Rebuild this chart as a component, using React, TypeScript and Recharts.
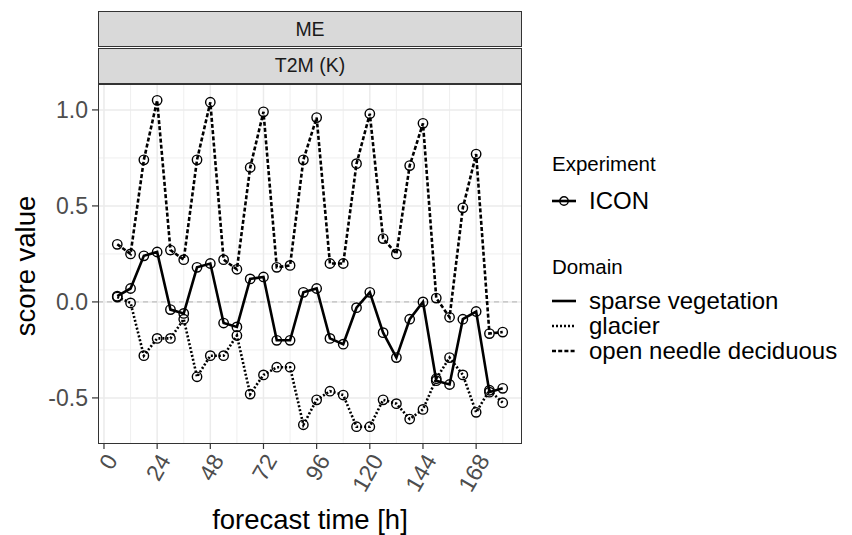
import { LineChart, Line, XAxis, YAxis, CartesianGrid, ReferenceLine } from "recharts";

const hours = [6, 12, 18, 24, 30, 36, 42, 48, 54, 60, 66, 72, 78, 84, 90, 96, 102, 108, 114, 120, 126, 132, 138, 144, 150, 156, 162, 168, 174, 180];
const sparseVegetation = [0.03, 0.07, 0.24, 0.26, -0.04, -0.06, 0.18, 0.2, -0.11, -0.13, 0.12, 0.13, -0.2, -0.2, 0.05, 0.07, -0.19, -0.22, -0.03, 0.05, -0.16, -0.29, -0.09, 0.0, -0.41, -0.43, -0.09, -0.05, -0.47, -0.45];
const glacier = [0.025, -0.005, -0.28, -0.19, -0.19, -0.09, -0.39, -0.28, -0.28, -0.175, -0.48, -0.38, -0.34, -0.34, -0.64, -0.51, -0.465, -0.485, -0.65, -0.65, -0.51, -0.53, -0.61, -0.56, -0.4, -0.29, -0.38, -0.575, -0.46, -0.525];
const openNeedle = [0.3, 0.25, 0.74, 1.05, 0.27, 0.22, 0.74, 1.04, 0.22, 0.17, 0.7, 0.99, 0.18, 0.19, 0.74, 0.96, 0.2, 0.2, 0.72, 0.98, 0.33, 0.25, 0.71, 0.93, 0.02, -0.08, 0.49, 0.77, -0.165, -0.157];

const xTicks = [0, 24, 48, 72, 96, 120, 144, 168];
const xMinor = [12, 36, 60, 84, 108, 132, 156, 180];
const yTicks = [-0.5, 0, 0.5, 1];
const yMinor = [-0.25, 0.25, 0.75];

const data = hours.map((h, i) => ({
  hour: h,
  sparse: sparseVegetation[i],
  glacier: glacier[i],
  needle: openNeedle[i],
}));

const FONT = '"Liberation Sans", Arial, sans-serif';
const DOTTED = "2 2";
const DASHED = "4 2.2";

const circleDot = (p: any) => (
  <circle key={`${p.dataKey}-${p.index}`} cx={p.cx} cy={p.cy} r={4.7} fill="none" stroke="#000" strokeWidth={1.4} />
);

const XTick = ({ x, y, payload }: any) => (
  <text
    transform={`translate(${x},${y}) rotate(-60)`}
    textAnchor="end"
    dy="0.72em"
    fill="#4D4D4D"
    fontSize={23}
    fontFamily={FONT}
  >
    {payload.value}
  </text>
);

const strip = (top: number, label: string) => (
  <div
    style={{
      position: "absolute",
      left: 98,
      top,
      width: 424,
      height: 36,
      boxSizing: "border-box",
      background: "#D9D9D9",
      border: "1.2px solid #333",
      display: "flex",
      alignItems: "center",
      justifyContent: "center",
      fontSize: 19.5,
      color: "#1A1A1A",
    }}
  >
    {label}
  </div>
);

const LegendKey = ({ dash, circle }: { dash?: string; circle?: boolean }) => (
  <svg width={26} height={14} style={{ marginRight: 12 }}>
    <line x1={1} x2={25} y1={7} y2={7} stroke="#000" strokeWidth={2.6} strokeDasharray={dash} />
    {circle && <circle cx={13} cy={7} r={4.2} fill="none" stroke="#000" strokeWidth={1.4} />}
  </svg>
);

const row = (top: number, label: string, key: any) => (
  <div style={{ position: "absolute", left: 551, top, height: 26, display: "flex", alignItems: "center", fontSize: 24, color: "#000" }}>
    {key}
    {label}
  </div>
);

export default function App() {
  return (
    <div style={{ position: "absolute", left: 0, top: 0, width: 852, height: 535, background: "#fff", fontFamily: FONT }}>
      <LineChart width={852} height={535} data={data} margin={{ top: 84, right: 330, bottom: 0, left: 0 }}>
        <CartesianGrid stroke="#EBEBEB" strokeWidth={0.8} verticalValues={xMinor} horizontalValues={yMinor} />
        <CartesianGrid stroke="#EBEBEB" strokeWidth={1.5} verticalValues={xTicks} horizontalValues={yTicks} />
        <XAxis
          dataKey="hour"
          type="number"
          domain={[-2.7, 188.7]}
          ticks={xTicks}
          allowDataOverflow
          height={91}
          tickSize={5}
          tickMargin={3}
          axisLine={false}
          tickLine={{ stroke: "#333", strokeWidth: 1.2 }}
          tick={<XTick />}
          interval={0}
        />
        <YAxis
          type="number"
          domain={[-0.74, 1.135]}
          ticks={yTicks}
          allowDataOverflow
          width={98}
          tickSize={6}
          tickMargin={4}
          axisLine={false}
          tickLine={{ stroke: "#333", strokeWidth: 1.2 }}
          tick={{ fill: "#4D4D4D", fontSize: 23, fontFamily: FONT }}
          tickFormatter={(v: number) => v.toFixed(1)}
          interval={0}
        />
        <ReferenceLine y={0} stroke="#BEBEBE" strokeWidth={1.3} strokeDasharray="5 4" />
        <Line dataKey="needle" stroke="#000" strokeWidth={2.6} strokeDasharray={DASHED} dot={circleDot} isAnimationActive={false} />
        <Line dataKey="glacier" stroke="#000" strokeWidth={2.6} strokeDasharray={DOTTED} dot={circleDot} isAnimationActive={false} />
        <Line dataKey="sparse" stroke="#000" strokeWidth={2.6} dot={circleDot} isAnimationActive={false} />
      </LineChart>

      <div style={{ position: "absolute", left: 98, top: 84, width: 424, height: 360, boxSizing: "border-box", border: "1.3px solid #333" }} />
      {strip(11, "ME")}
      {strip(47.5, "T2M (K)")}

      <div style={{ position: "absolute", left: 160, width: 300, top: 504, textAlign: "center", fontSize: 27.5, color: "#000" }}>
        forecast time [h]
      </div>
      <div
        style={{
          position: "absolute",
          left: 26,
          top: 266,
          transform: "translate(-50%, -50%) rotate(-90deg)",
          fontSize: 27.5,
          whiteSpace: "nowrap",
          color: "#000",
        }}
      >
        score value
      </div>

      <div style={{ position: "absolute", left: 552, top: 152, fontSize: 20.5, color: "#000" }}>Experiment</div>
      {row(188, "ICON", <LegendKey circle />)}
      <div style={{ position: "absolute", left: 552, top: 255, fontSize: 20.5, color: "#000" }}>Domain</div>
      {row(288, "sparse vegetation", <LegendKey />)}
      {row(313, "glacier", <LegendKey dash={DOTTED} />)}
      {row(338, "open needle deciduous", <LegendKey dash={DASHED} />)}
    </div>
  );
}
